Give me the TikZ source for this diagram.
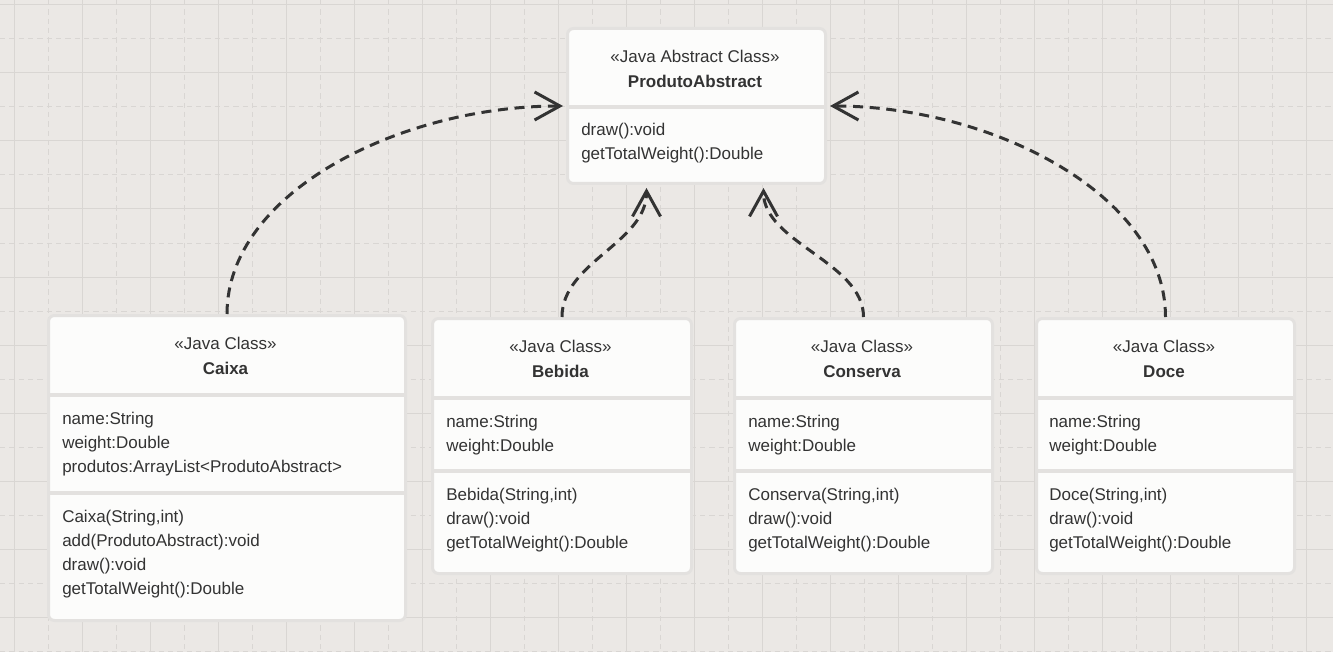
\documentclass[tikz,border=0pt]{standalone}
\usepackage{fontspec}
\setmainfont{Liberation Sans}
\usetikzlibrary{arrows.meta,calc}
\definecolor{paper}{HTML}{EBE8E5}
\definecolor{gridline}{HTML}{D9D6D3}
\definecolor{boxfill}{HTML}{FCFCFB}
\definecolor{boxedge}{HTML}{E3E1DF}
\definecolor{ink}{HTML}{333333}

\begin{document}
\begin{tikzpicture}[x=0.75pt,y=-0.75pt,
	font=\fontsize{12.75pt}{18pt}\selectfont, text=ink,
	class node/.style 2 args = {draw=boxedge, line width=2.25pt, fill=boxfill, rounded corners=4.5pt,
		anchor=north west, inner sep=0pt, minimum width=#1*0.75pt, minimum height=#2*0.75pt},
	head node/.style = {anchor=base, inner sep=0pt},
	name node/.style = {head node, font=\fontsize{12.75pt}{18pt}\selectfont\bfseries},
	member node/.style = {anchor=base west, inner sep=0pt},
	split line/.style = {draw=boxedge, line width=3pt},
	real line/.style = {ink, line width=2.25pt, dash pattern=on 7.5pt off 5pt,
		-{Straight Barb[length=19pt,width=21pt]}}]
	
	% background grid
	\useasboundingbox (0,0) rectangle (1333,652);
	\fill[paper] (0,0) rectangle (1333,652);
	\foreach \x in {14,82,...,1333} \draw[gridline, line width=0.75pt] (\x,0) -- (\x,652);
	\foreach \y in {5,73,...,652} \draw[gridline, line width=0.75pt] (0,\y) -- (1333,\y);
	\foreach \x in {48,116,...,1333} \draw[gridline, line width=0.75pt, dash pattern=on 4pt off 3pt] (\x,0) -- (\x,652);
	\foreach \y in {39,107,...,652} \draw[gridline, line width=0.75pt, dash pattern=on 4pt off 3pt] (0,\y) -- (1333,\y);
	
	% classes
	\node[class node={258}{155}] (0) at (566,27) {};
	\node[class node={357}{305}] (1) at (47,314) {};
	\node[class node={259}{255}] (2) at (431,317) {};
	\node[class node={258}{255}] (3) at (733,317) {};
	\node[class node={258}{255}] (4) at (1035,317) {};
	\foreach \n/\s in {0/80, 1/81, 1/178.5, 2/81, 2/154, 3/81, 3/154, 4/81, 4/154}
		\draw[split line] ($(\n.north west)+(0,\s)$) -- ($(\n.north east)+(0,\s)$);
	
	\node[head node] (st0) at (695,63) {«Java Abstract Class»};
	\node[name node] (nm0) at (695,88) {ProdutoAbstract};
	\node[member node] (me0-1) at (581,136) {draw():void};
	\node[member node] (me0-2) at (581,160) {getTotalWeight():Double};
	
	\node[head node] (st1) at (225.5,349.5) {«Java Class»};
	\node[name node] (nm1) at (225.5,374.5) {Caixa};
	\foreach \t [count=\i] in {name:String, weight:Double, produtos:ArrayList<ProdutoAbstract>}
		\node[member node] (att1-\i) at (62,400+24*\i) {\t};
	\foreach \t [count=\i] in {{Caixa(String,int)}, add(ProdutoAbstract):void, draw():void, getTotalWeight():Double}
		\node[member node] (me1-\i) at (62,498+24*\i) {\t};
	
	\foreach \n/\c/\x/\cls in {2/560.5/446/Bebida, 3/862/748/Conserva, 4/1164/1049/Doce} {
		\node[head node] (st\n) at (\c,352.5) {«Java Class»};
		\node[name node] (nm\n) at (\c,377.5) {\cls};
		\foreach \t [count=\i] in {name:String, weight:Double}
			\node[member node] (att\n-\i) at (\x,403+24*\i) {\t};
		\foreach \t [count=\i] in {{\cls(String,int)}, draw():void, getTotalWeight():Double}
			\node[member node] (me\n-\i) at (\x,476+24*\i) {\t};
	}
	
	% realizations
	\path[every edge/.append style={real line}]
	(1.north) edge[out=90, in=180, out distance=91.5pt, in distance=121.5pt] ([xshift=-2.25pt]0.west)
	(2.north) edge[out=90, in=-90, out distance=41pt, in distance=41pt] ([xshift=-37.5pt,yshift=-2.25pt]0.south)
	(3.north) edge[out=90, in=-90, out distance=41pt, in distance=41pt] ([xshift=50.25pt,yshift=-2.25pt]0.south)
	(4.north) edge[out=90, in=0, out distance=91.5pt, in distance=121.5pt] ([xshift=2.25pt]0.east);
\end{tikzpicture}
\end{document}
